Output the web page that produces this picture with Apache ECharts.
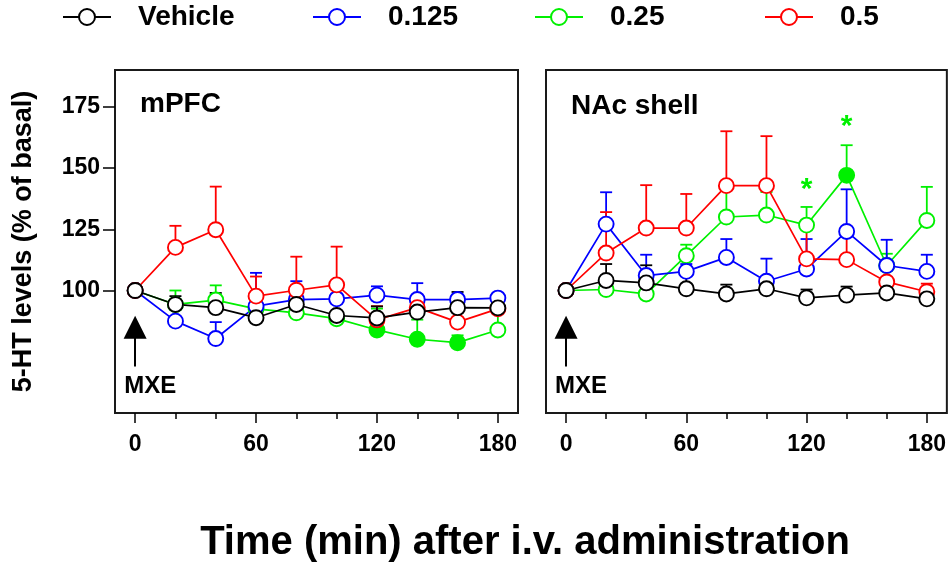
<!DOCTYPE html>
<html>
<head>
<meta charset="utf-8">
<script src="https://cdn.jsdelivr.net/npm/echarts@6/dist/echarts.min.js"></script>
<style>html,body{margin:0;padding:0;background:#fff;}#c{width:949px;height:563px;}</style>
</head>
<body>
<div id="c"></div>
<script>
// ---- data ----
const times = [0, 20, 40, 60, 80, 100, 120, 140, 160, 180];
const groupNames = ['Vehicle', '0.125', '0.25', '0.5'];
const groupColors = ['#000000', '#0000ff', '#00f000', '#ff0000'];
const xTickLabels = [0, 60, 120, 180];
const xMinorTicks = [20, 40, 80, 100, 140, 160];
const yTickLabels = [100, 125, 150, 175];
const panelTitles = ['mPFC', 'NAc shell'];

// mPFC means and upper SEM
const mpfcVehicle = [100, 94.3, 93.0, 88.9, 94.3, 89.8, 88.8, 91.2, 93.0, 92.9];
const mpfcVehicleErr = [0, 3.4, 6.0, 6.0, 2.7, 5.0, 4.7, 6.4, 6.4, 4.8];
const mpfcLow = [100, 87.5, 80.4, 93.6, 96.3, 96.6, 98.1, 96.3, 96.3, 96.9];
const mpfcLowErr = [0, 0, 6.7, 13.6, 7.5, 2.0, 3.6, 6.7, 1.5, 1.0];
const mpfcMid = [100, 94.3, 96.1, 92.5, 90.9, 88.5, 83.9, 80.1, 78.7, 83.9];
const mpfcMidErr = [0, 5.7, 6.0, 2.0, 2.0, 2.0, 8.7, 8.0, 3.0, 7.0];
const mpfcHigh = [100, 117.6, 124.8, 97.7, 100.1, 102.3, 88.0, 93.0, 87.1, 92.5];
const mpfcHighErr = [0, 8.8, 17.6, 8.0, 13.7, 15.6, 5.6, 4.4, 0, 5.0];
const mpfcMidSignificant = [120, 140, 160];

// NAc shell means and upper SEM
const nacVehicle = [100, 104.1, 103.1, 100.7, 98.6, 100.7, 97.0, 98.1, 99.0, 96.6];
const nacVehicleErr = [0, 6.7, 7.2, 7.4, 3.8, 1.0, 3.4, 3.5, 3.0, 2.9];
const nacLow = [100, 127.1, 106.1, 107.8, 113.5, 103.8, 108.8, 124.1, 110.2, 107.8];
const nacLowErr = [0, 13.0, 8.5, 3.0, 7.5, 9.2, 12.2, 17.2, 10.5, 6.8];
const nacMid = [100, 100.4, 98.6, 114.2, 130.0, 130.8, 126.7, 147.0, 110.2, 128.6];
const nacMidErr = [0, 0, 0, 4.5, 14.0, 9.4, 7.4, 12.3, 4.8, 13.7];
const nacHigh = [100, 115.3, 125.5, 125.5, 142.8, 142.8, 112.9, 112.6, 103.5, 99.5];
const nacHighErr = [0, 16.7, 17.5, 13.9, 22.2, 20.2, 12.2, 12.5, 5.0, 3.3];
const nacMidSignificant = [140];
const nacStars = [[120, 141], [140, 167]];

const FONT = 'Liberation Sans, Arial, Helvetica, sans-serif';

const panels = [
  { means: [mpfcVehicle, mpfcLow, mpfcMid, mpfcHigh], errs: [mpfcVehicleErr, mpfcLowErr, mpfcMidErr, mpfcHighErr], sig: mpfcMidSignificant, stars: [] },
  { means: [nacVehicle, nacLow, nacMid, nacHigh], errs: [nacVehicleErr, nacLowErr, nacMidErr, nacHighErr], sig: nacMidSignificant, stars: nacStars }
];

const grids = [
  { left: 115, top: 70, width: 403, height: 343, show: true, borderColor: '#1a1a1a', borderWidth: 2, backgroundColor: 'transparent' },
  { left: 546, top: 70, width: 402, height: 343, show: true, borderColor: '#1a1a1a', borderWidth: 2, backgroundColor: 'transparent' }
];

const xAxes = [];
const yAxes = [];
grids.forEach((g, gi) => {
  xAxes.push({
    type: 'value', gridIndex: gi, min: -10, max: 190, position: 'bottom',
    axisLine: { show: false, onZero: false },
    splitLine: { show: false },
    axisTick: { show: true, customValues: xTickLabels, length: 10, lineStyle: { color: '#000', width: 1.5 } },
    axisLabel: { show: true, customValues: xTickLabels, margin: 20, fontSize: 23, fontWeight: 'bold', color: '#000', fontFamily: FONT }
  });
  xAxes.push({
    type: 'value', gridIndex: gi, min: -10, max: 190, position: 'bottom',
    axisLine: { show: false, onZero: false },
    splitLine: { show: false },
    axisTick: { show: true, customValues: xMinorTicks, length: 6, lineStyle: { color: '#000', width: 1.5 } },
    axisLabel: { show: false }
  });
  yAxes.push({
    type: 'value', gridIndex: gi, min: 50, max: 190, position: 'left',
    axisLine: { show: false, onZero: false },
    splitLine: { show: false },
    axisTick: { show: gi === 0, customValues: yTickLabels, length: 12, lineStyle: { color: '#000', width: 1.5 } },
    axisLabel: { show: gi === 0, customValues: yTickLabels, margin: 15, fontSize: 23, fontWeight: 'bold', color: '#000', fontFamily: FONT },
    name: gi === 0 ? '5-HT levels (% of basal)' : '',
    nameLocation: 'middle', nameGap: 78,
    nameTextStyle: { fontSize: 27, fontWeight: 'bold', color: '#000', fontFamily: FONT }
  });
});

const series = [];
const drawOrder = [2, 1, 3, 0];
panels.forEach((p, pi) => {
  // error bars first (underneath)
  drawOrder.forEach(k => {
    const errData = times.map((t, i) => [t, p.means[k][i], p.means[k][i] + p.errs[k][i]]).filter(d => d[2] > d[1]);
    series.push({
      type: 'custom', name: groupNames[k] + ' SEM', xAxisIndex: pi * 2, yAxisIndex: pi, z: 1, silent: true,
      data: errData,
      renderItem: function (params, api) {
        const p0 = api.coord([api.value(0), api.value(1)]);
        const p1 = api.coord([api.value(0), api.value(2)]);
        const hw = 6;
        return {
          type: 'group',
          children: [
            { type: 'line', shape: { x1: p0[0], y1: p0[1], x2: p1[0], y2: p1[1] }, style: { stroke: groupColors[k], lineWidth: 1.8 } },
            { type: 'line', shape: { x1: p1[0] - hw, y1: p1[1], x2: p1[0] + hw, y2: p1[1] }, style: { stroke: groupColors[k], lineWidth: 1.8 } }
          ]
        };
      }
    });
  });
  drawOrder.forEach(k => {
    const data = times.map((t, i) => {
      const item = { value: [t, p.means[k][i]] };
      if (k === 2 && p.sig.indexOf(t) >= 0) item.itemStyle = { color: groupColors[k] };
      return item;
    });
    const s = {
      type: 'line', name: groupNames[k], xAxisIndex: pi * 2, yAxisIndex: pi, z: 3,
      data: data,
      symbol: 'circle', symbolSize: 15, showAllSymbol: true,
      lineStyle: { color: groupColors[k], width: 1.7 },
      itemStyle: { color: '#ffffff', borderColor: groupColors[k], borderWidth: 1.9 },
      emphasis: { disabled: true },
      animation: false
    };
    if (k === 0) {
      s.markLine = {
        silent: true, animation: false,
        symbol: ['none', 'triangle'], symbolSize: 23,
        lineStyle: { color: '#000', width: 2, type: 'solid' },
        itemStyle: { color: '#000' },
        label: { show: false },
        data: [[{ coord: [0, 69] }, { coord: [0, 85] }]]
      };
      s.markPoint = {
        silent: true, animation: false,
        symbol: 'circle', symbolSize: 0,
        label: { show: true, position: 'inside', formatter: 'MXE', fontSize: 24, fontWeight: 'bold', color: '#000', fontFamily: FONT },
        data: [{ coord: [7.5, 61] }]
      };
    }
    if (k === 2 && p.stars.length) {
      s.markPoint = {
        silent: true, animation: false,
        symbol: 'circle', symbolSize: 0,
        label: { show: true, position: 'inside', formatter: '*', fontSize: 30, fontWeight: 'bold', color: groupColors[2], fontFamily: FONT },
        data: p.stars.map(c => ({ coord: c }))
      };
    }
    series.push(s);
  });
});

const legendLeft = [62, 312, 534, 764];
const legends = groupNames.map((n, k) => ({
  data: [n], left: legendLeft[k], top: 3, padding: 0,
  itemWidth: 48, itemHeight: 20, selectedMode: false,
  textStyle: { fontSize: 28, fontWeight: 'bold', color: '#000', fontFamily: FONT, padding: [0, 0, 0, 22] }
}));

const titles = [
  { text: panelTitles[0], left: 140, top: 90, padding: 0, textStyle: { fontSize: 28, fontWeight: 'bold', color: '#000', fontFamily: FONT } },
  { text: panelTitles[1], left: 571, top: 92, padding: 0, textStyle: { fontSize: 28, fontWeight: 'bold', color: '#000', fontFamily: FONT } },
  { text: 'Time (min) after i.v. administration', left: 525, textAlign: 'center', top: 523, padding: 0, textStyle: { fontSize: 40, fontWeight: 'bold', color: '#000', fontFamily: FONT } }
];

const chart = echarts.init(document.getElementById('c'), null, { renderer: 'canvas' });
chart.setOption({
  animation: false,
  backgroundColor: '#fff',
  title: titles,
  legend: legends,
  grid: grids,
  xAxis: xAxes,
  yAxis: yAxes,
  series: series
});
</script>
</body>
</html>
